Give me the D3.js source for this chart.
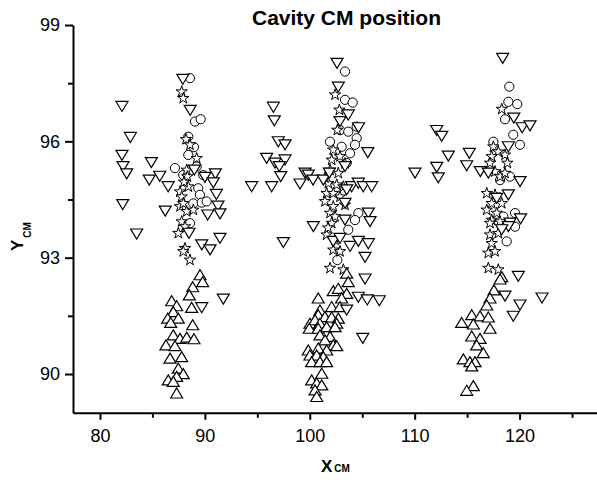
<!DOCTYPE html>
<html><head><meta charset="utf-8">
<script src="https://cdn.jsdelivr.net/npm/d3@7"></script>
<style>
html,body{margin:0;padding:0;background:#fff;}
svg{display:block;}
text{font-family:"Liberation Sans",Arial,Helvetica,sans-serif;fill:#000;}
</style></head>
<body>
<svg id="chart" width="597" height="483"></svg>
<script>
const title = "Cavity CM position";
const xTicksMajor = [80, 90, 100, 110, 120];
const xTicksMinor = [85, 95, 105, 115, 125];
const yTicksMajor = [90, 93, 96, 99];
const yTicksMinor = [91.5, 94.5, 97.5];

const downTri = [
[87.9,97.6],[82.1,96.9],[88.6,96.8],[82.9,96.1],[82.1,95.64],[82.2,95.35],[82.55,95.16],[84.9,95.45],[84.7,95.0],[85.7,95.1],[86.5,94.83],[89.0,95.26],[90.0,95.07],[91.0,95.16],[90.8,94.93],[91.1,94.63],[91.25,94.33],[91.44,94.13],[90.27,94.1],[86.22,94.2],[82.17,94.37],[83.5,93.61],[88.49,93.63],[91.44,93.5],[89.7,93.33],[90.49,93.2],[91.76,91.93],[89.7,91.71],
[102.6,98.01],[102.72,97.4],[96.53,96.88],[96.62,96.53],[97.0,95.99],[97.64,95.91],[102.88,96.51],[103.67,96.68],[104.65,96.35],[105.53,95.71],[95.89,95.56],[96.69,95.44],[97.64,95.52],[97.1,95.35],[97.23,95.09],[96.37,94.83],[94.46,94.83],[99.07,94.9],[99.55,95.18],[99.86,95.13],[100.31,95.0],[101.29,95.0],[101.86,95.18],[103.36,95.35],[103.99,94.83],[104.63,94.92],[105.1,94.83],[105.9,94.83],[103.52,94.75],[103.36,94.4],[105.58,94.15],[105.74,93.93],[103.36,93.97],[100.34,93.8],[97.48,93.39],[102.24,93.42],[103.84,93.29],[104.63,93.42],[105.58,93.36],[105.27,93.01],[105.27,92.45],[104.63,91.98],[105.48,91.91],[106.63,91.89],[103.52,91.65],[105.05,90.92],[102.88,93.5],
[110.03,95.18],
[118.39,98.14],[112.1,96.28],[112.58,96.13],[113.21,95.62],[115.21,95.69],[114.96,95.37],[112.1,95.33],[112.25,95.06],[116.26,95.22],[119.45,96.6],[120.25,96.35],[120.99,96.4],[118.93,95.86],[120.04,94.96],[117.02,95.18],[118.93,94.62],[117.82,94.53],[120.09,94.0],[119.09,93.89],[118.93,93.8],[118.3,93.72],[119.88,92.52],[122.14,91.96],[118.61,92.01],[120.04,91.78],[119.4,91.49]
];

const upTri = [
[89.54,92.56],[89.79,92.38],[88.84,92.25],[88.52,92.04],[86.84,91.89],[87.31,91.76],[88.74,91.72],[86.99,91.61],[86.46,91.44],[87.47,91.44],[86.74,91.33],[88.84,91.27],[86.99,91.01],[87.63,90.92],[88.27,90.95],[88.96,90.91],[86.29,90.75],[87.15,90.73],[86.68,90.41],[87.79,90.45],[87.47,90.15],[87.94,90.01],[87.31,89.94],[86.51,89.85],[86.99,89.81],[87.31,89.51],
[103.52,92.6],[103.67,92.38],[102.24,92.15],[102.72,92.21],[103.52,92.08],[103.04,91.96],[100.81,91.96],[102.09,91.74],[102.88,91.74],[100.97,91.65],[100.81,91.53],[101.45,91.48],[102.09,91.47],[102.72,91.44],[100.02,91.31],[100.5,91.4],[100.97,91.31],[102.57,91.31],[99.95,91.18],[100.81,91.18],[101.61,91.22],[102.41,91.22],[100.97,91.01],[101.93,90.97],[101.45,90.88],[102.24,90.75],[102.57,90.73],[99.86,90.62],[100.81,90.67],[101.61,90.62],[100.02,90.49],[100.66,90.49],[101.29,90.45],[100.18,90.32],[100.97,90.32],[101.61,90.32],[101.14,90.02],[100.18,89.85],[100.66,89.77],[101.14,89.72],[100.5,89.59],[100.66,89.42],
[118.3,92.51],[118.14,92.45],[117.56,92.17],[117.18,91.96],[116.87,91.78],[115.44,91.53],[116.23,91.5],[117.02,91.47],[114.48,91.33],[115.59,91.29],[117.18,91.18],[115.44,90.98],[116.23,90.92],[115.91,90.75],[116.54,90.55],[114.64,90.39],[115.27,90.32],[115.75,90.32],[115.44,90.21],[115.59,89.7],[114.96,89.58]
];

const circles = [
[88.58,97.63],[89.06,96.51],[89.6,96.57],[88.42,96.12],[88.96,95.85],[88.42,95.65],[87.15,95.31],[87.94,95.13],[89.22,95.35],[89.85,95.13],[89.37,94.79],[89.53,94.62],[88.9,94.4],[89.7,94.42],[90.17,94.45],[88.58,93.89],
[103.36,97.8],[103.36,97.07],[104.09,97.0],[102.88,96.29],[103.67,96.25],[104.47,96.38],[104.47,96.08],[104.31,95.91],[101.93,95.99],[103.04,95.86],[103.84,95.69],[103.52,95.44],[104.63,94.15],[104.31,93.97],[103.67,93.72],[102.63,92.94],
[119.02,97.41],[118.93,97.02],[119.78,96.96],[118.61,96.57],[119.4,96.17],[120.04,95.91],[117.5,95.99],[118.14,95.0],[119.09,95.09],[119.57,94.15],[118.45,94.06],[119.57,93.8],[118.77,93.42]
];

const stars = [
[87.79,97.28],[87.94,97.11],[88.2,96.05],[88.58,95.91],[89.22,95.56],[88.27,95.26],[88.33,95.09],[88.42,94.83],[87.63,94.7],[87.79,94.57],[87.63,94.32],[87.94,94.4],[88.27,94.19],[88.9,94.23],[87.79,93.93],[88.11,93.8],[87.47,93.63],[88.11,93.24],[87.94,93.16],[88.58,92.94],[88.01,94.95],
[102.41,97.2],[102.82,96.81],[102.63,96.29],[102.24,95.78],[102.09,95.52],[102.88,95.61],[103.36,95.43],[101.93,95.26],[102.72,95.18],[101.77,94.92],[102.57,94.88],[103.2,94.83],[101.61,94.66],[102.24,94.66],[102.88,94.57],[101.45,94.45],[102.24,94.32],[101.93,94.15],[102.41,94.06],[102.09,93.89],[101.61,93.59],[102.41,93.46],[102.24,93.2],[102.88,93.16],[101.93,92.73],[103.2,92.69],[101.45,95.06],[103.36,94.36],[101.74,93.77],
[118.3,96.83],[117.5,95.86],[117.97,95.73],[117.34,95.61],[118.61,95.65],[118.83,95.44],[117.18,95.44],[117.66,95.22],[118.14,95.09],[118.61,95.18],[116.87,94.66],[117.66,94.62],[117.34,94.4],[118.3,94.4],[116.87,94.23],[117.82,94.15],[117.34,93.97],[118.14,93.93],[117.18,93.89],[117.18,93.59],[117.97,93.63],[117.34,93.37],[117.02,93.12],[117.66,93.16],[117.02,92.73],[117.97,92.69]
];

const svg = d3.select("#chart");
const x = d3.scaleLinear().domain([77.43, 127.38]).range([73, 597]);
const y = d3.scaleLinear().domain([89, 99]).range([412.8, 25]);

// axes
const gx = svg.append("g").attr("transform", "translate(0,412.8)");
gx.call(d3.axisBottom(x).tickValues(xTicksMinor).tickSize(5).tickSizeOuter(0).tickFormat(""));
gx.call(g => g.select(".domain").remove());
const gx2 = svg.append("g").attr("transform", "translate(0,412.8)");
gx2.call(d3.axisBottom(x).tickValues(xTicksMajor).tickSize(7).tickSizeOuter(0).tickPadding(8));
gx2.select(".domain").attr("stroke-width", 2);
gx2.selectAll("text").attr("font-size", 18).attr("dy", null).attr("y", 29);

const gy = svg.append("g").attr("transform", "translate(73,0)");
gy.call(d3.axisLeft(y).tickValues(yTicksMinor).tickSize(5).tickSizeOuter(0).tickFormat(""));
gy.call(g => g.select(".domain").remove());
const gy2 = svg.append("g").attr("transform", "translate(73,0)");
gy2.call(d3.axisLeft(y).tickValues(yTicksMajor).tickSize(8).tickSizeOuter(0).tickPadding(5));
gy2.select(".domain").attr("stroke-width", 2);
gy2.selectAll("text").attr("font-size", 18).attr("x", -13);
svg.selectAll(".tick line").attr("stroke-width", 2);

// markers
const W = 12, H = 10;
const upPath = `M0,${-H/2}L${W/2},${H/2}L${-W/2},${H/2}Z`;
const downPath = `M0,${H/2}L${W/2},${-H/2}L${-W/2},${-H/2}Z`;
const starPath = d3.symbol().type(d3.symbolStar).size(40)();

const plot = svg.append("g");
plot.selectAll("circle.c").data(circles).join("circle")
  .attr("cx", d => x(d[0])).attr("cy", d => y(d[1])).attr("r", 4.6)
  .attr("fill", "#fff").attr("stroke", "#000").attr("stroke-width", 1);
plot.selectAll("path.s").data(stars).join("path").attr("class","s")
  .attr("d", starPath).attr("transform", d => `translate(${x(d[0])},${y(d[1])})`)
  .attr("fill", "#fff").attr("stroke", "#000").attr("stroke-width", 1);
plot.selectAll("path.u").data(upTri).join("path").attr("class","u")
  .attr("d", upPath).attr("transform", d => `translate(${x(d[0])},${y(d[1])})`)
  .attr("fill", "#fff").attr("stroke", "#000").attr("stroke-width", 1.2);
plot.selectAll("path.dn").data(downTri).join("path").attr("class","dn")
  .attr("d", downPath).attr("transform", d => `translate(${x(d[0])},${y(d[1])})`)
  .attr("fill", "#fff").attr("stroke", "#000").attr("stroke-width", 1.2);

// title
svg.append("text").attr("x", 346.5).attr("y", 25).attr("text-anchor", "middle")
  .attr("font-size", 21).attr("font-weight", "bold").text(title);

// x label
const xl = svg.append("text").attr("x", 321).attr("y", 472).attr("font-weight", "bold");
xl.append("tspan").attr("font-size", 17).text("X");
xl.append("tspan").attr("font-size", 10).attr("dx", 2).text("CM");

// y label
const yl = svg.append("text").attr("transform", "translate(23,251) rotate(-90)").attr("font-weight", "bold");
yl.append("tspan").attr("font-size", 17).text("Y");
yl.append("tspan").attr("font-size", 10).attr("dx", 2).attr("dy", 8).text("CM");
</script>
</body></html>
